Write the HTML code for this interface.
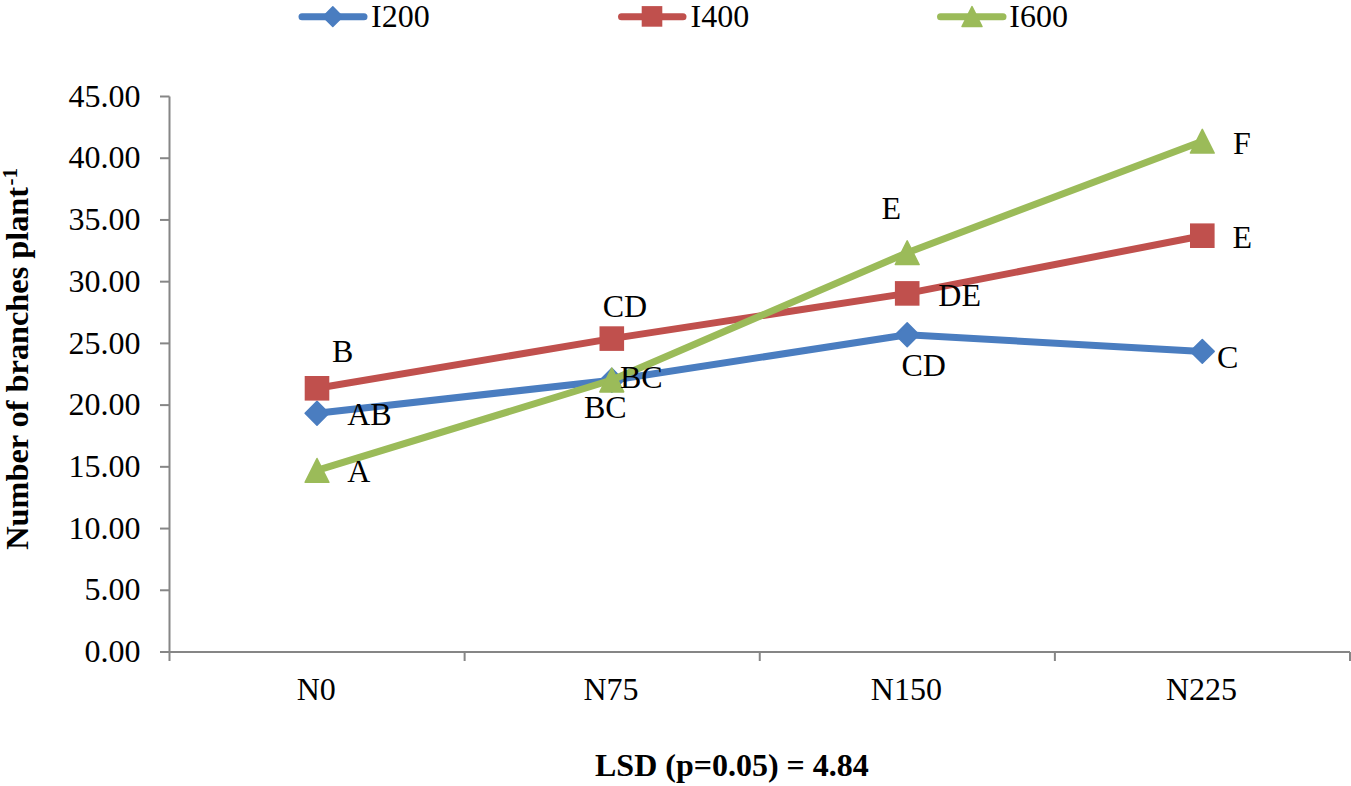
<!DOCTYPE html><html><head><meta charset="utf-8"><style>html,body{margin:0;padding:0;background:#fff;}svg{display:block;}</style></head><body>
<svg width="1351" height="786" viewBox="0 0 1351 786" font-family="Liberation Serif, serif">
<rect width="1351" height="786" fill="#fff"/>
<g stroke="#868686" stroke-width="2" fill="none">
<line x1="169.5" y1="96.5" x2="169.5" y2="661.0"/>
<line x1="160.0" y1="652.00" x2="169.5" y2="652.00"/>
<line x1="160.0" y1="590.28" x2="169.5" y2="590.28"/>
<line x1="160.0" y1="528.56" x2="169.5" y2="528.56"/>
<line x1="160.0" y1="466.83" x2="169.5" y2="466.83"/>
<line x1="160.0" y1="405.11" x2="169.5" y2="405.11"/>
<line x1="160.0" y1="343.39" x2="169.5" y2="343.39"/>
<line x1="160.0" y1="281.67" x2="169.5" y2="281.67"/>
<line x1="160.0" y1="219.94" x2="169.5" y2="219.94"/>
<line x1="160.0" y1="158.22" x2="169.5" y2="158.22"/>
<line x1="160.0" y1="96.50" x2="169.5" y2="96.50"/>
<line x1="160.0" y1="652.0" x2="1350" y2="652.0"/>
<line x1="464.62" y1="652.0" x2="464.62" y2="661.0"/>
<line x1="759.75" y1="652.0" x2="759.75" y2="661.0"/>
<line x1="1054.88" y1="652.0" x2="1054.88" y2="661.0"/>
<line x1="1350.00" y1="652.0" x2="1350.00" y2="661.0"/>
</g>
<g font-size="32" fill="#000" text-anchor="end">
<text x="140.5" y="662.20">0.00</text>
<text x="140.5" y="600.48">5.00</text>
<text x="140.5" y="538.76">10.00</text>
<text x="140.5" y="477.03">15.00</text>
<text x="140.5" y="415.31">20.00</text>
<text x="140.5" y="353.59">25.00</text>
<text x="140.5" y="291.87">30.00</text>
<text x="140.5" y="230.14">35.00</text>
<text x="140.5" y="168.42">40.00</text>
<text x="140.5" y="106.70">45.00</text>
</g>
<g font-size="32" fill="#000" text-anchor="middle">
<text x="316.2" y="700">N0</text>
<text x="611.0" y="700">N75</text>
<text x="906.4" y="700">N150</text>
<text x="1201.5" y="700">N225</text>
</g>
<text transform="translate(27.7,549.7) rotate(-90)" font-size="32.3" font-weight="bold" fill="#000">Number of branches plant<tspan font-size="21" dx="1.5" dy="-11">-1</tspan></text>
<text x="595" y="775.5" font-size="32" font-weight="bold" fill="#000">LSD (p=0.05) = 4.84</text>
<polyline points="317.00,413.30 611.80,380.20 907.20,334.80 1202.30,351.40" fill="none" stroke="#4a7dc0" stroke-width="7.0" stroke-linejoin="round" stroke-linecap="round"/>
<path d="M305.10 413.30 L317.00 401.40 L328.90 413.30 L317.00 425.20 Z" fill="#4a7dc0" stroke="#4a7dc0" stroke-width="1.5" stroke-linejoin="round"/>
<path d="M599.90 380.20 L611.80 368.30 L623.70 380.20 L611.80 392.10 Z" fill="#4a7dc0" stroke="#4a7dc0" stroke-width="1.5" stroke-linejoin="round"/>
<path d="M895.30 334.80 L907.20 322.90 L919.10 334.80 L907.20 346.70 Z" fill="#4a7dc0" stroke="#4a7dc0" stroke-width="1.5" stroke-linejoin="round"/>
<path d="M1190.40 351.40 L1202.30 339.50 L1214.20 351.40 L1202.30 363.30 Z" fill="#4a7dc0" stroke="#4a7dc0" stroke-width="1.5" stroke-linejoin="round"/>
<polyline points="317.00,388.30 611.80,338.60 907.20,293.40 1202.30,235.70" fill="none" stroke="#c0504d" stroke-width="7.0" stroke-linejoin="round" stroke-linecap="round"/>
<rect x="304.70" y="376.00" width="24.60" height="24.60" fill="#c0504d"/>
<rect x="599.50" y="326.30" width="24.60" height="24.60" fill="#c0504d"/>
<rect x="894.90" y="281.10" width="24.60" height="24.60" fill="#c0504d"/>
<rect x="1190.00" y="223.40" width="24.60" height="24.60" fill="#c0504d"/>
<polyline points="317.00,470.40 611.80,380.00 907.20,252.70 1202.30,141.20" fill="none" stroke="#9bbb59" stroke-width="7.0" stroke-linejoin="round" stroke-linecap="round"/>
<path d="M317.00 458.50 L328.90 482.30 L305.10 482.30 Z" fill="#9bbb59" stroke="#9bbb59" stroke-width="1.5" stroke-linejoin="round"/>
<path d="M611.80 368.10 L623.70 391.90 L599.90 391.90 Z" fill="#9bbb59" stroke="#9bbb59" stroke-width="1.5" stroke-linejoin="round"/>
<path d="M907.20 240.80 L919.10 264.60 L895.30 264.60 Z" fill="#9bbb59" stroke="#9bbb59" stroke-width="1.5" stroke-linejoin="round"/>
<path d="M1202.30 129.30 L1214.20 153.10 L1190.40 153.10 Z" fill="#9bbb59" stroke="#9bbb59" stroke-width="1.5" stroke-linejoin="round"/>
<g font-size="32" fill="#000">
<text x="347.2" y="425.3">AB</text>
<text x="619.9" y="388.0">BC</text>
<text x="901.4" y="376.4">CD</text>
<text x="1217.0" y="367.5">C</text>
<text x="331.9" y="362.0">B</text>
<text x="602.7" y="316.8">CD</text>
<text x="938.3" y="305.6">DE</text>
<text x="1232.5" y="248.0">E</text>
<text x="347.2" y="482.3">A</text>
<text x="584.0" y="417.6">BC</text>
<text x="881.4" y="218.7">E</text>
<text x="1232.9" y="153.5">F</text>
</g>
<line x1="302" y1="16.8" x2="364" y2="16.8" stroke="#4a7dc0" stroke-width="7.0" stroke-linecap="round"/>
<path d="M323.00 16.70 L332.80 6.90 L342.60 16.70 L332.80 26.50 Z" fill="#4a7dc0" stroke="#4a7dc0" stroke-width="1.5" stroke-linejoin="round"/>
<text x="371.0" y="26.7" font-size="32" fill="#000">I200</text>
<line x1="621.5" y1="16.8" x2="683" y2="16.8" stroke="#c0504d" stroke-width="7.0" stroke-linecap="round"/>
<rect x="641.70" y="6.10" width="20.60" height="20.60" fill="#c0504d"/>
<text x="690.5" y="26.7" font-size="32" fill="#000">I400</text>
<line x1="940.5" y1="16.8" x2="1003" y2="16.8" stroke="#9bbb59" stroke-width="7.0" stroke-linecap="round"/>
<path d="M972.00 6.60 L982.00 26.60 L962.00 26.60 Z" fill="#9bbb59" stroke="#9bbb59" stroke-width="1.5" stroke-linejoin="round"/>
<text x="1009.3" y="26.7" font-size="32" fill="#000">I600</text>
</svg></body></html>
